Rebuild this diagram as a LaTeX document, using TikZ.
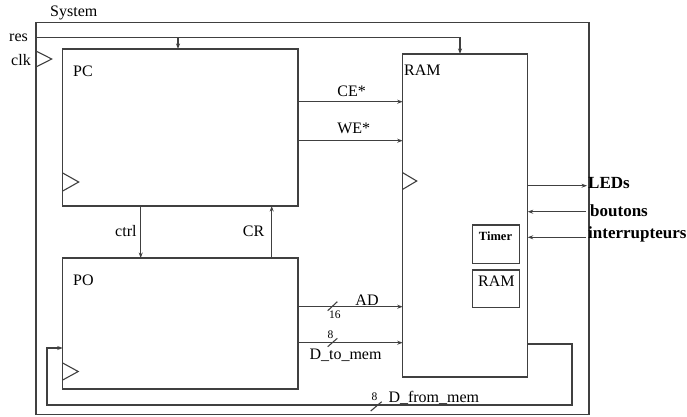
\documentclass[tikz,border=0pt]{standalone}
\usepackage{fontspec}
\setmainfont{Liberation Serif}
\usetikzlibrary{arrows.meta}
\begin{document}
\begin{tikzpicture}[x=1pt,y=-1pt,
  ln/.style={draw=black!75, line width=1.1pt},
  arr/.style={ln, -{Stealth[length=5.5pt,width=4pt]}},
  box/.style={ln, anchor=north west, inner sep=0pt, outer sep=0pt},
  lbl/.style={inner sep=0pt, font=\fontsize{16}{19}\selectfont},
  sml/.style={inner sep=0pt, font=\fontsize{11.5}{13}\selectfont},
  bld/.style={inner sep=1pt, font=\fontsize{17}{20}\selectfont\bfseries}]
\useasboundingbox (0,0) rectangle (687,416);

% boxes
\node[box, minimum width=553pt, minimum height=392pt] (sys) at (36,22.7) {};
\node[box, minimum width=235.3pt, minimum height=157pt] (pc) at (62.7,49) {};
\node[box, minimum width=235.3pt, minimum height=131pt] (po) at (62.7,258) {};
\node[box, minimum width=125pt, minimum height=323pt] (ram) at (402.7,54) {};
\node[box, minimum width=47pt, minimum height=38.3pt] (timer) at (472.3,225) {};
\node[box, minimum width=47pt, minimum height=37.3pt] (ramin) at (472.3,270) {};

% labels
\node[lbl, anchor=base west] (tsys) at (50,16.7) {System};
\node[lbl, anchor=base west] (tres) at (9,41.7) {res};
\node[lbl, anchor=base west] (tclk) at (11,65) {clk};
\node[lbl, anchor=base west] (tpc) at (73,76) {PC};
\node[lbl, anchor=base west] (tpo) at (73,285) {PO};
\node[lbl, anchor=base west] (tram) at (404,75) {RAM};
\node[lbl, anchor=base] (tce) at (351.7,96.7) {CE*};
\node[lbl, anchor=base] (twe) at (353.8,133.3) {WE*};
\node[lbl, anchor=base west] (tctrl) at (115,236) {ctrl};
\node[lbl, anchor=base west] (tcr) at (242.7,236) {CR};
\node[lbl, anchor=base] (tad) at (367,305) {AD};
\node[sml, anchor=base west] (t16) at (329,318.3) {16};
\node[sml, anchor=base west] (t8a) at (327.5,338.3) {8};
\node[lbl, anchor=base west] (tdtm) at (309.3,359) {D\_to\_mem};
\node[sml, anchor=base west] (t8b) at (371.5,400) {8};
\node[lbl, anchor=base west] (tdfm) at (388.3,402.3) {D\_from\_mem};
\node[inner sep=0pt, font=\fontsize{12.5}{14}\selectfont\bfseries, anchor=base] (ttimer) at (495.5,240.7) {Timer};
\node[lbl, anchor=base west] (tramin) at (478,286.7) {RAM};
\node[bld, anchor=base west] (leds) at (587,188.3) {LEDs};
\node[bld, anchor=base west] (bout) at (589,216) {boutons};
\node[bld, anchor=base west] (intr) at (587,238.3) {interrupteurs};

% clock triangles
\draw[ln] ([yshift=-28.3pt]sys.north west) -- ++(15.7,8) -- ++(-15.7,8);
\draw[ln] ([yshift=33pt]pc.south west) -- ++(16,9) -- ++(-16,9);
\draw[ln] ([yshift=26pt]po.south west) -- ++(15.5,8.5) -- ++(-15.5,8.5);
\draw[ln] ([yshift=-118.7pt]ram.north west) -- ++(14,8.3) -- ++(-14,8.3);

% res
\coordinate (rs) at ([yshift=-15pt]sys.north west);
\coordinate (pcres) at ([xshift=115.3pt]pc.north west);
\coordinate (ramres) at ([xshift=57.3pt]ram.north west);
\draw[arr] (rs) -| (ramres);
\draw[arr] (pcres |- rs) -- (pcres);

% ctrl / CR
\coordinate (ctrlx) at ([xshift=78pt]pc.south west);
\coordinate (crx) at ([xshift=209pt]po.north west);
\draw[arr] (ctrlx) -- (ctrlx |- po.north);
\draw[arr] (crx) -- (crx |- pc.south);

% PC -> RAM
\coordinate (yce) at (0,101.7);
\coordinate (ywe) at (0,140.7);
\draw[arr] (pc.east |- yce) -- (ram.west |- yce);
\draw[arr] (pc.east |- ywe) -- (ram.west |- ywe);

% PO -> RAM
\coordinate (yad) at (0,306.7);
\coordinate (ydtm) at (0,342.7);
\draw[arr] (po.east |- yad) -- (ram.west |- yad);
\draw[arr] (po.east |- ydtm) -- (ram.west |- ydtm);
\draw[ln] (327.7,310.7) -- (337.3,301.7);
\draw[ln] (327.7,346.7) -- (337.3,338.3);

% D_from_mem
\coordinate (ydfm) at (0,344);
\coordinate (ydfm2) at (0,348);
\draw[arr] (ram.east |- ydfm) -| (572,405) -| (47,348) -- (po.west |- ydfm2);
\draw[ln] (370.7,411) -- (381.7,401.7);

% I/O
\coordinate (yled) at (0,185.7);
\coordinate (ybout) at (0,211.7);
\coordinate (yintr) at (0,237.3);
\draw[arr] (ram.east |- yled) -- (leds.west |- yled);
\draw[arr] (586,211.7) coordinate (bs) -- (ram.east |- ybout);
\draw[arr] (586,237.3) coordinate (is) -- (ram.east |- yintr);
\end{tikzpicture}
\end{document}
